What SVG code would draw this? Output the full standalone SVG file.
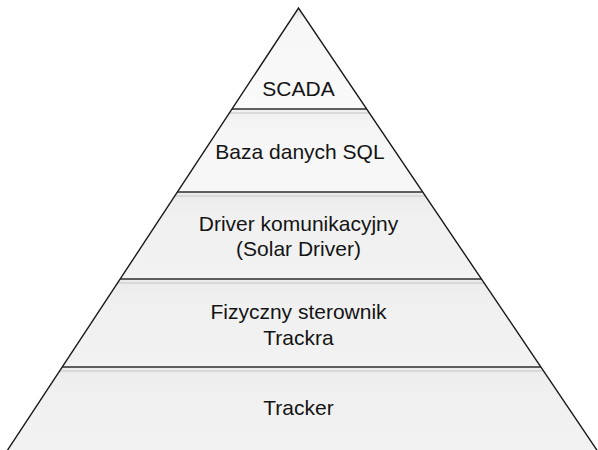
<svg xmlns="http://www.w3.org/2000/svg" width="598" height="450" viewBox="0 0 598 450">
  <defs>
    <linearGradient id="layerFill" x1="0" y1="0" x2="0" y2="1">
      <stop offset="0" stop-color="#ebebeb"/>
      <stop offset="0.25" stop-color="#f0f0f0"/>
      <stop offset="1" stop-color="#f2f2f2"/>
    </linearGradient>
    <linearGradient id="upperFill" x1="0" y1="0" x2="0" y2="1">
      <stop offset="0" stop-color="#f0f0f0"/>
      <stop offset="0.25" stop-color="#f6f6f6"/>
      <stop offset="1" stop-color="#f7f7f7"/>
    </linearGradient>
    <linearGradient id="apexFill" x1="0" y1="0" x2="0" y2="1">
      <stop offset="0" stop-color="#dedede"/>
      <stop offset="0.12" stop-color="#f6f6f6"/>
      <stop offset="1" stop-color="#fafafa"/>
    </linearGradient>
  </defs>
  <style>
    .layer { fill: url(#layerFill); stroke: none; }
    .sep { stroke: #2e2e2e; stroke-width: 1.6; fill: none; }
    .shade { stroke: #d2d2d2; stroke-width: 1.4; fill: none; }
    .edge { stroke: #1a1a1a; stroke-width: 1.4; fill: none; stroke-linejoin: miter; }
    .label { font-family: "Liberation Sans", Arial, sans-serif; font-size: 21px; fill: #141414; text-anchor: middle; }
  </style>
  <rect width="598" height="450" fill="#ffffff"/>

  <g id="layer-scada">
    <polygon class="layer" style="fill: url(#apexFill)" points="298.5,8 366.7,109 232,109"/>
    <text class="label" x="298.5" y="96">SCADA</text>
  </g>

  <g id="layer-sql">
    <polygon class="layer" style="fill: url(#upperFill)" points="232,109 366.7,109 422.7,192 177.4,192"/>
    <line class="shade" x1="229.3" y1="113" x2="369.4" y2="113"/>
    <text class="label" x="300" y="159">Baza danych SQL</text>
  </g>

  <g id="layer-driver">
    <polygon class="layer" points="177.4,192 422.7,192 481.4,279 120.2,279"/>
    <line class="shade" x1="174.8" y1="196" x2="425.4" y2="196"/>
    <text class="label" x="298.5" y="231">Driver komunikacyjny</text>
    <text class="label" x="298.5" y="256">(Solar Driver)</text>
  </g>

  <g id="layer-controller">
    <polygon class="layer" points="120.2,279 481.4,279 540.8,367 62.3,367"/>
    <line class="shade" x1="117.6" y1="283" x2="484.1" y2="283"/>
    <text class="label" x="298.5" y="319">Fizyczny sterownik</text>
    <text class="label" x="298.5" y="345">Trackra</text>
  </g>

  <g id="layer-tracker">
    <polygon class="layer" points="62.3,367 540.8,367 598.2,452 6.3,452"/>
    <line class="shade" x1="59.7" y1="371" x2="543.5" y2="371"/>
    <text class="label" x="298.5" y="415">Tracker</text>
  </g>

  <g id="connectors">
    <line class="sep" x1="232" y1="109" x2="366.7" y2="109"/>
    <line class="sep" x1="177.4" y1="192" x2="422.7" y2="192"/>
    <line class="sep" x1="120.2" y1="279" x2="481.4" y2="279"/>
    <line class="sep" x1="62.3" y1="367" x2="540.8" y2="367"/>
    <polyline class="edge" points="6.3,452 298.5,8 598.2,452"/>
  </g>
</svg>
